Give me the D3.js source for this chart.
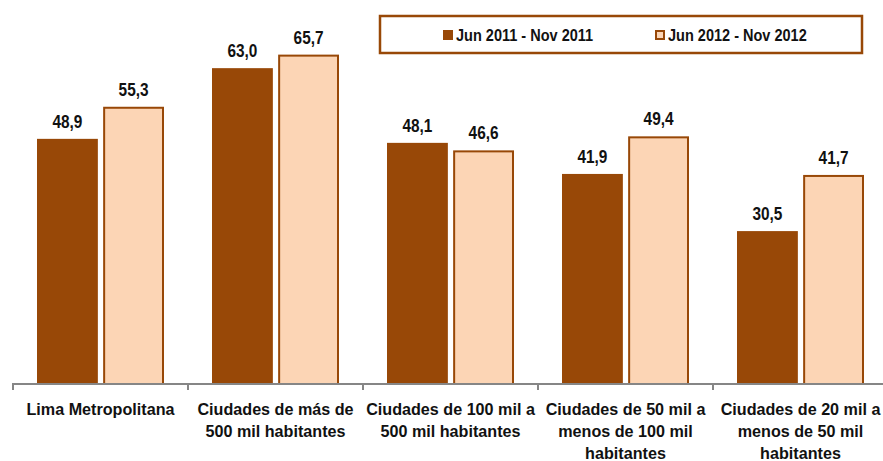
<!DOCTYPE html>
<html>
<head>
<meta charset="utf-8">
<script src="https://cdn.jsdelivr.net/npm/d3@7"></script>
<style>
  body { margin: 0; background: #fff; }
  svg text { font-family: "Liberation Sans", Arial, sans-serif; font-weight: bold; fill: #111; }
</style>
</head>
<body>
<svg id="chart"></svg>
<script>
const categories = [
  ["Lima Metropolitana"],
  ["Ciudades de más de", "500 mil habitantes"],
  ["Ciudades de 100 mil a", "500 mil habitantes"],
  ["Ciudades de 50 mil a", "menos de 100 mil", "habitantes"],
  ["Ciudades de 20 mil a", "menos de 50 mil", "habitantes"]
];
const series = ["Jun 2011 - Nov 2011", "Jun 2012 - Nov 2012"];
const values2011 = [48.9, 63.0, 48.1, 41.9, 30.5];
const values2012 = [55.3, 65.7, 46.6, 49.4, 41.7];

const width = 883, height = 461;
const dark = "#984807", light = "#FCD5B5";
const fmt = v => v.toFixed(1).replace(".", ",");
// squeeze text horizontally to mimic a narrow face
const place = (x, y, k) => "translate(" + x + "," + y + ") scale(" + (k || 0.88) + ",1)";

const svg = d3.select("#chart").attr("width", width).attr("height", height);

const keys = categories.map(c => c.join(" "));
const x0 = d3.scaleBand().domain(keys).range([13, 888]);
const x1 = d3.scaleBand().domain(series).range([24, 151]).paddingInner(0.08);
const y = d3.scaleLinear().domain([0, 75]).range([384, 8]);

const rows = keys.map((k, i) => ({ key: k, vals: [values2011[i], values2012[i]] }));

const groups = svg.append("g").selectAll("g")
  .data(rows).enter().append("g")
  .attr("transform", d => "translate(" + x0(d.key) + ",0)");

groups.selectAll("rect")
  .data(d => d.vals.map((v, j) => ({ s: series[j], v: v, j: j })))
  .enter().append("rect")
  .attr("x", d => x1(d.s) + (d.j ? 1 : 0))
  .attr("y", d => y(d.v) + (d.j ? 1 : 0))
  .attr("width", d => x1.bandwidth() - (d.j ? 2 : 0))
  .attr("height", d => y(0) - y(d.v) - (d.j ? 1 : 0))
  .attr("fill", d => d.j ? light : dark)
  .attr("stroke", d => d.j ? dark : "none")
  .attr("stroke-width", 2);

groups.selectAll("text.val")
  .data(d => d.vals.map((v, j) => ({ s: series[j], v: v })))
  .enter().append("text")
  .attr("class", "val")
  .attr("transform", d => place(x1(d.s) + x1.bandwidth() / 2, y(d.v) - 11))
  .attr("text-anchor", "middle")
  .attr("font-size", "17.5px")
  .text(d => fmt(d.v));

// axis
const axis = svg.append("g").attr("transform", "translate(0,384)");
axis.append("line").attr("x1", 12).attr("x2", width).attr("y1", 0).attr("y2", 0)
  .attr("stroke", "#868686").attr("stroke-width", 2);
axis.selectAll("line.tick")
  .data(keys.concat([null])).enter().append("line")
  .attr("class", "tick")
  .attr("x1", (d, i) => 13 + i * x0.step()).attr("x2", (d, i) => 13 + i * x0.step())
  .attr("y1", 0).attr("y2", 6)
  .attr("stroke", "#868686").attr("stroke-width", 2);

const labs = svg.append("g").selectAll("text")
  .data(categories).enter().append("text")
  .attr("transform", (d, i) => place(x0(keys[i]) + x0.bandwidth() / 2, 415, 0.95))
  .attr("text-anchor", "middle")
  .attr("font-size", "17px");
labs.selectAll("tspan")
  .data(d => d).enter().append("tspan")
  .attr("x", 0)
  .attr("dy", (d, i) => i ? 22 : 0)
  .text(d => d);

// legend
const leg = svg.append("g");
leg.append("rect").attr("x", 380).attr("y", 16).attr("width", 482).attr("height", 37)
  .attr("fill", "#fff").attr("stroke", dark).attr("stroke-width", 2.5);
const legX = [443, 655];
series.forEach((s, j) => {
  leg.append("rect")
    .attr("x", legX[j] + (j ? 1 : 0)).attr("y", 30 + (j ? 1 : 0))
    .attr("width", j ? 8 : 10).attr("height", j ? 8 : 10)
    .attr("fill", j ? light : dark)
    .attr("stroke", j ? dark : "none").attr("stroke-width", 2);
  leg.append("text").attr("transform", place(legX[j] + 13, 41))
    .attr("font-size", "16.5px").text(s);
});
</script>
</body>
</html>
